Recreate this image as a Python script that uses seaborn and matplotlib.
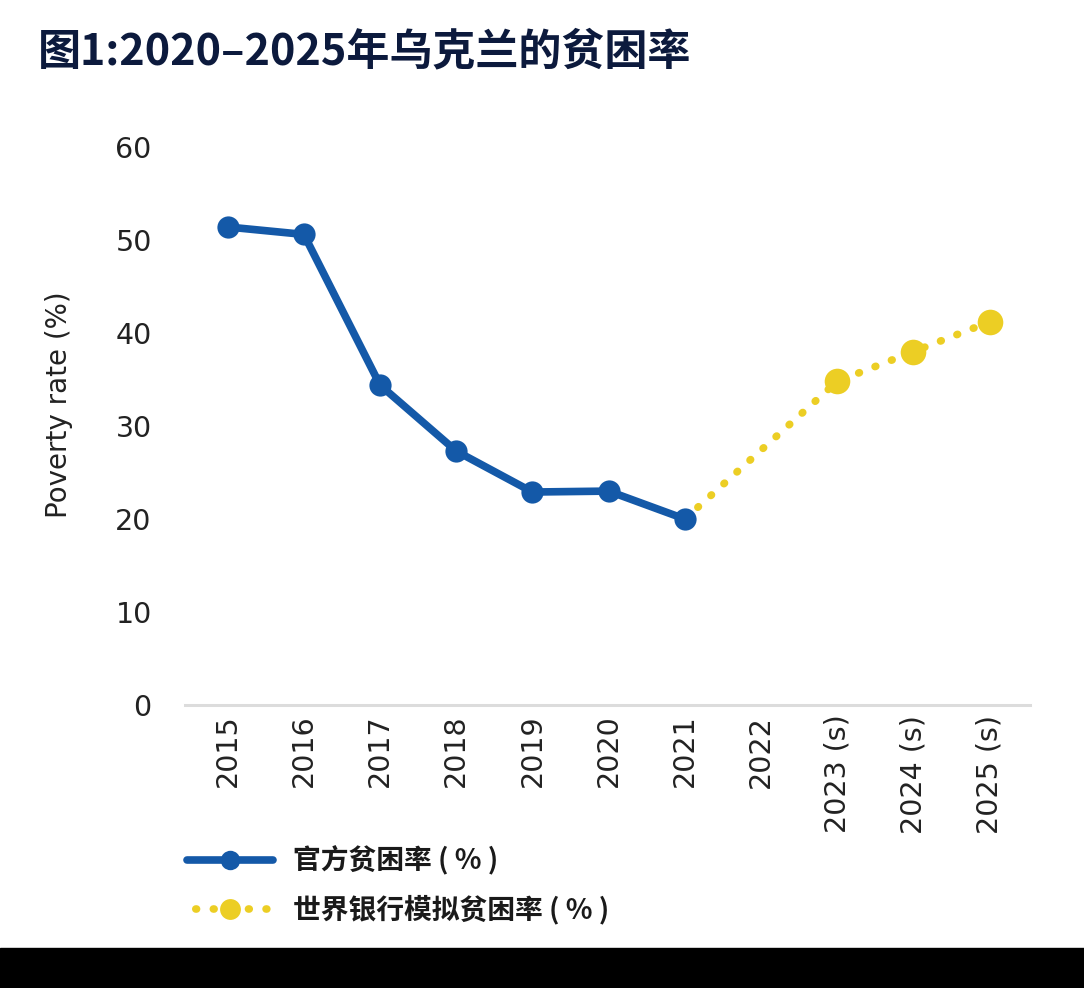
import matplotlib
matplotlib.use("Agg")
import matplotlib.pyplot as plt
import seaborn as sns
import pandas as pd
from matplotlib.lines import Line2D
from matplotlib.patches import Rectangle

# ---- data ----
categories = ["2015", "2016", "2017", "2018", "2019", "2020", "2021",
              "2022", "2023 (s)", "2024 (s)", "2025 (s)"]
official_years = ["2015", "2016", "2017", "2018", "2019", "2020", "2021"]
official_values = [51.4, 50.6, 34.4, 27.3, 22.9, 23.0, 20.0]
sim_years = ["2021", "2023 (s)", "2024 (s)", "2025 (s)"]
sim_values = [20.0, 34.8, 38.0, 41.2]
sim_marker_years = ["2023 (s)", "2024 (s)", "2025 (s)"]
sim_marker_values = [34.8, 38.0, 41.2]
y_ticks = [0, 10, 20, 30, 40, 50, 60]
title_text = "图1:2020–2025年乌克兰的贫困率"
y_label = "Poverty rate (%)"
legend_labels = ["官方贫困率 ( % )", "世界银行模拟贫困率 ( % )"]

BLUE = "#1459a8"
YELLOW = "#ecce24"

sns.set_theme(style="white")
plt.rcParams["font.family"] = ["DejaVu Sans", "Noto Sans CJK SC"]
cjk = ["Noto Sans CJK SC", "DejaVu Sans"]

df_off = pd.DataFrame({"pos": [categories.index(c) for c in official_years],
                       "value": official_values})
df_sim = pd.DataFrame({"pos": [categories.index(c) for c in sim_years],
                       "value": sim_values})
df_simm = pd.DataFrame({"pos": [categories.index(c) for c in sim_marker_years],
                        "value": sim_marker_values})

fig = plt.figure(figsize=(10.84, 9.88), dpi=100)
ax = fig.add_axes([185 / 1084, 1 - 705 / 988, 845 / 1084, 558 / 988])

sns.lineplot(data=df_sim, x="pos", y="value", ax=ax, color=YELLOW, lw=5.5,
             zorder=2)
for ln in ax.get_lines():
    ln.set_linestyle((0, (0.1, 2.2)))
    ln.set_dash_capstyle("round")
sns.scatterplot(data=df_simm, x="pos", y="value", ax=ax, color=YELLOW,
                s=340, linewidth=0, zorder=3, clip_on=False)
sns.lineplot(data=df_off, x="pos", y="value", ax=ax, color=BLUE, lw=5.5,
             marker="o", markersize=16, markeredgewidth=0, zorder=4,
             clip_on=False)

ax.set_xlim(-0.56, len(categories) - 1 + 0.53)
ax.set_ylim(0, 60)
ax.set_xticks(range(len(categories)))
ax.set_xticklabels(categories, rotation=90, fontsize=20.5, color="#222222")
ax.set_yticks(y_ticks)
ax.set_yticklabels([str(v) for v in y_ticks], fontsize=20.5, color="#222222")
ax.tick_params(axis="x", length=0, pad=7)
ax.tick_params(axis="y", length=0, pad=24)
ax.set_xlabel("")
ax.set_ylabel(y_label, fontsize=20, color="#222222")
ax.yaxis.set_label_coords(-0.132, 0.538)
for s in ["left", "right", "top"]:
    ax.spines[s].set_visible(False)
ax.spines["bottom"].set_color("#dcdcdc")
ax.spines["bottom"].set_linewidth(2.2)
ax.grid(False)

fig.text(38 / 1084, 1 - 51 / 988, title_text, fontsize=31, fontweight="bold",
         color="#0c1a3d", family=cjk, ha="left", va="center")

handles = [
    Line2D([], [], color=BLUE, lw=5.5, marker="o", markersize=14,
           markeredgewidth=0),
    Line2D([], [], color=YELLOW, lw=5.5, linestyle=(1.15, (0.1, 2.2)),
           dash_capstyle="round", marker="o", markersize=15,
           markeredgewidth=0),
]
leg = fig.legend(handles, legend_labels, loc="upper left",
                 bbox_to_anchor=(176 / 1084, 1 - 835 / 988), frameon=False,
                 prop={"family": cjk, "size": 20, "weight": "bold"},
                 handlelength=3.1, handletextpad=0.7, labelspacing=0.7,
                 borderaxespad=0)
for t in leg.get_texts():
    t.set_color("#1a1a1a")

fig.patches.append(Rectangle((0, 0), 1, 40 / 988, transform=fig.transFigure,
                             color="black", zorder=10))

fig.savefig("out.png", dpi=100, facecolor="white")
